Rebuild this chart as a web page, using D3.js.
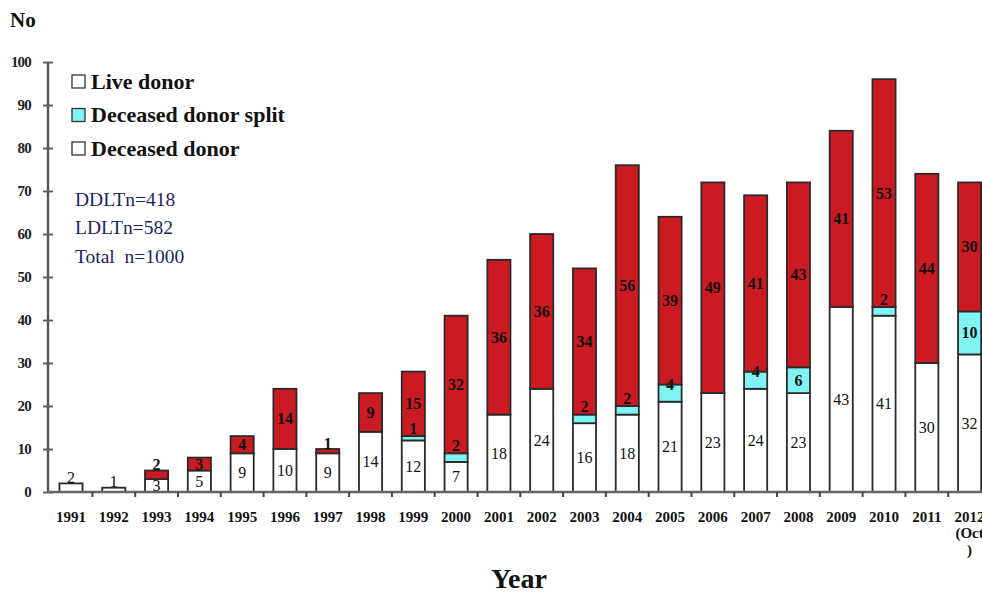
<!DOCTYPE html>
<html><head><meta charset="utf-8">
<script src="https://cdn.jsdelivr.net/npm/d3@7/dist/d3.min.js"></script>
<style>
html,body{margin:0;padding:0;background:#fff;}
svg{display:block;}
</style></head>
<body><svg id="chart" width="982" height="594"></svg>
<script>
const years = ["1991","1992","1993","1994","1995","1996","1997","1998","1999","2000","2001","2002","2003","2004","2005","2006","2007","2008","2009","2010","2011","2012"];
const deceasedDonor = [2,1,3,5,9,10,9,14,12,7,18,24,16,18,21,23,24,23,43,41,30,32];
const deceasedSplit = [0,0,0,0,0,0,0,0,1,2,0,0,2,2,4,0,4,6,0,2,0,10];
const liveDonor     = [0,0,2,3,4,14,1,9,15,32,36,36,34,56,39,49,41,43,41,53,44,30];
const yTicks = [0,10,20,30,40,50,60,70,80,90,100];
const legendLabels = ["Live donor","Deceased donor split","Deceased donor"];
const notes = ["DDLTn=418","LDLTn=582","Total  n=1000"];

const svg = d3.select("#chart");
const serif = "'Liberation Serif','Times New Roman',serif";
const x = d3.scaleBand().domain(years).range([49.6, 991]).paddingInner(0.46).paddingOuter(0.23);
const y = d3.scaleLinear().domain([0,100]).range([492, 62]);
const step = x.step();

const series = [
  {key:"dd", vals:deceasedDonor, fill:"#ffffff"},
  {key:"split", vals:deceasedSplit, fill:"#80f4f4"},
  {key:"live", vals:liveDonor, fill:"#cc1a22"}
];

const rows = years.map((yr,i)=>({year:yr, dd:deceasedDonor[i], split:deceasedSplit[i], live:liveDonor[i]}));
const stack = d3.stack().keys(["dd","split","live"])(rows);

// bars
stack.forEach((layer, li) => {
  svg.append("g").selectAll("rect").data(layer.filter(d=>d[1]-d[0]>0)).join("rect")
    .attr("x", d=>x(d.data.year))
    .attr("width", x.bandwidth())
    .attr("y", d=>y(d[1]))
    .attr("height", d=>y(d[0])-y(d[1]))
    .attr("fill", series[li].fill)
    .attr("stroke", "#2a2a2a")
    .attr("stroke-width", 1.8);
});

// labels
stack.forEach((layer, li) => {
  const key = layer.key;
  svg.append("g").selectAll("text").data(layer.filter(d=>d[1]-d[0]>0)).join("text")
    .attr("x", d=>x(d.data.year)+x.bandwidth()/2)
    .attr("y", d=>{
      const v = d[1]-d[0];
      if (key==="split") {
        if (v>=6) return y((d[0]+d[1])/2);
        if (v>=3) return y(d[1]);
        return y(d[1])-8;
      }
      if (v>=3) return y((d[0]+d[1])/2);
      return y(d[1])-6;
    })
    .attr("text-anchor","middle")
    .attr("dominant-baseline","central")
    .attr("font-family", serif)
    .attr("font-size", 16)
    .attr("font-weight", key==="dd" ? "normal" : "bold")
    .attr("fill","#111")
    .text(d=>d[1]-d[0]);
});

// y axis
const yAxis = d3.axisLeft(y).tickValues(yTicks).tickSize(4).tickPadding(13);
const gy = svg.append("g").attr("transform","translate(48,0)").call(yAxis);
gy.select(".domain").attr("stroke","#555").attr("stroke-width",2.4).attr("d","M0,62V492");
gy.selectAll(".tick line").attr("stroke","#555").attr("stroke-width",1.8).attr("x1",5).attr("x2",-5);
gy.selectAll(".tick text").attr("font-family",serif).attr("font-weight","bold").attr("font-size",15).attr("fill","#222").attr("letter-spacing",-0.8);

// x axis
const xAxis = d3.axisBottom(x).tickSize(0).tickPadding(19);
const gx = svg.append("g").attr("transform","translate(0,492)").call(xAxis);
gx.select(".domain").attr("stroke","#666").attr("stroke-width",2.6).attr("d","M47,0H982");
gx.selectAll(".tick text").attr("font-family",serif).attr("font-weight","bold").attr("font-size",15).attr("fill","#111")
  .each(function(d){
    if (d==="2012") {
      const t = d3.select(this); t.text(null);
      t.append("tspan").attr("x",0).text("2012");
      t.append("tspan").attr("x",0).attr("dy","1.1em").text("(Oct");
      t.append("tspan").attr("x",0).attr("dy","1.1em").text(")");
    }
  });
// boundary ticks
svg.append("g").selectAll("line").data(years.slice(0,-1)).join("line")
  .attr("x1", d=>x(d)+x.bandwidth()+(step-x.bandwidth())/2)
  .attr("x2", d=>x(d)+x.bandwidth()+(step-x.bandwidth())/2)
  .attr("y1",492).attr("y2",497).attr("stroke","#444").attr("stroke-width",2);

// axis titles
svg.append("text").attr("x",10).attr("y",27).attr("font-family",serif).attr("font-weight","bold").attr("font-size",21).attr("fill","#111").text("No");
svg.append("text").attr("x",519).attr("y",588).attr("text-anchor","middle").attr("font-family",serif).attr("font-weight","bold").attr("font-size",28).attr("fill","#111").text("Year");

// legend
const legFills = ["#ffffff","#80f4f4","#ffffff"];
const lg = svg.append("g");
legendLabels.forEach((lab,i)=>{
  const yy = 81 + i*33.5;
  lg.append("rect").attr("x",72).attr("y",yy-6).attr("width",13).attr("height",13)
    .attr("fill",legFills[i]).attr("stroke","#333").attr("stroke-width",1.3);
  lg.append("text").attr("x",91).attr("y",yy).attr("dominant-baseline","central")
    .attr("font-family",serif).attr("font-weight","bold").attr("font-size",22).attr("fill","#111").text(lab);
});
notes.forEach((n,i)=>{
  svg.append("text").attr("x",75).attr("y",199+i*28.5).attr("dominant-baseline","central")
    .attr("font-family",serif).attr("font-size",19.5).attr("fill","#1a1f5e").style("white-space","pre").text(n);
});
</script></body></html>
